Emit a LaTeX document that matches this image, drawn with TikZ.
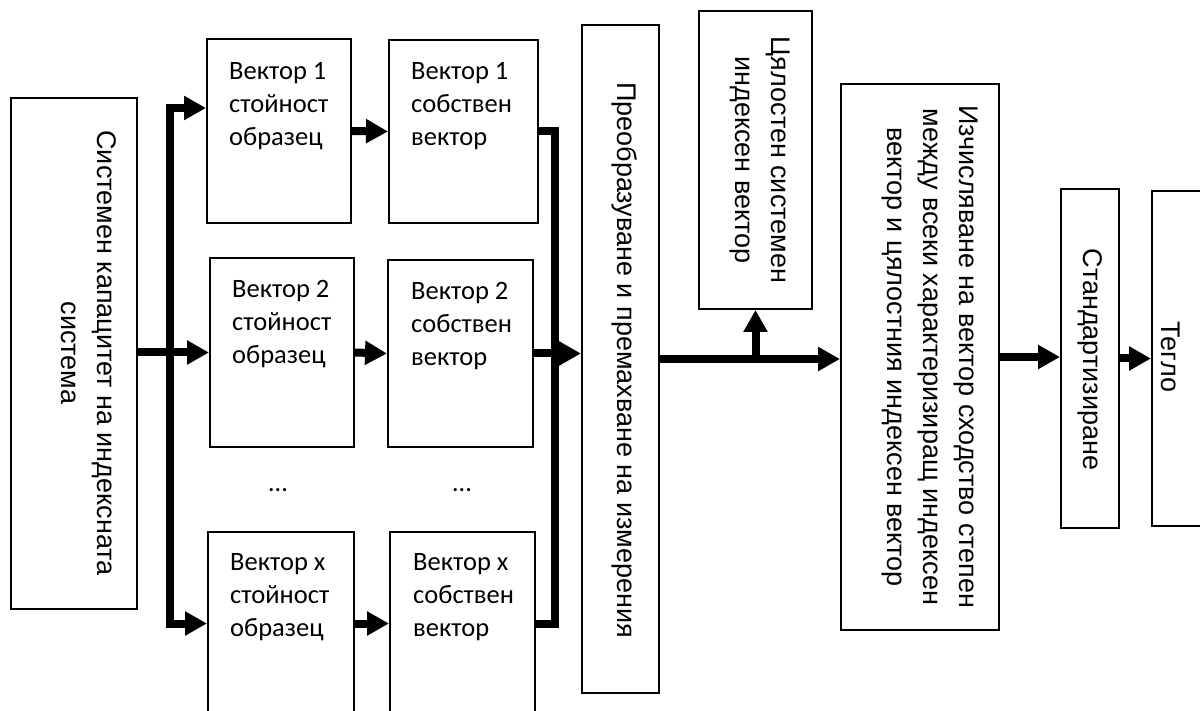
\documentclass[tikz,border=0pt]{standalone}
\usepackage{fontspec}
\setmainfont{Carlito}
\newfontfamily\arialf{Liberation Sans}
\usetikzlibrary{arrows.meta}
\begin{document}
\begin{tikzpicture}[x=1pt,y=-1pt,
  >={Triangle[length=22pt,width=23pt]},
  blk/.style={draw, line width=2pt, inner sep=0pt},
  conn/.style={line width=8pt, line join=miter},
  lbl/.style={anchor=north west, align=left, inner sep=0pt, font=\fontsize{26.5}{33}\selectfont},
  rlbl/.style={rotate=-90, align=center, inner sep=0pt, font=\arialf\fontsize{27}{36}\selectfont}]
\useasboundingbox (0,0) rectangle (1200,711);
% boxes
\node[blk, minimum width=126pt, minimum height=511pt] (L) at (74,353.5) {};
\node[blk, minimum width=144pt, minimum height=184pt] (S1) at (279,131) {};
\node[blk, minimum width=149pt, minimum height=183pt] (V1) at (463.5,131.5) {};
\node[blk, minimum width=144pt, minimum height=189pt] (S2) at (282,352.5) {};
\node[blk, minimum width=145pt, minimum height=187pt] (V2) at (460.5,353.5) {};
\node[blk, minimum width=146pt, minimum height=183pt] (Sx) at (281,623.5) {};
\node[blk, minimum width=145pt, minimum height=183pt] (Vx) at (462.5,623.5) {};
\node[blk, minimum width=77pt, minimum height=668pt] (T) at (620.5,359) {};
\node[blk, minimum width=113pt, minimum height=298pt] (C) at (755.5,160) {};
\node[blk, minimum width=158pt, minimum height=546pt] (I) at (920,357) {};
\node[blk, minimum width=58pt, minimum height=339pt] (St) at (1090,358.5) {};
\node[blk, minimum width=63pt, minimum height=335pt] (Tg) at (1183.5,358.5) {};
% texts
\node[lbl] (tS1) at (229,62) {Вектор 1\\стойност\\образец};
\node[lbl] (tV1) at (411,62) {Вектор 1\\собствен\\вектор};
\node[lbl] (tS2) at (232,280) {Вектор 2\\стойност\\образец};
\node[lbl] (tV2) at (411,282) {Вектор 2\\собствен\\вектор};
\node[lbl] (tSx) at (230,553) {Вектор x\\стойност\\образец};
\node[lbl] (tVx) at (413,553) {Вектор x\\собствен\\вектор};
\node[font=\fontsize{26.5}{33}\selectfont] (d1) at (278,490) {…};
\node[font=\fontsize{26.5}{33}\selectfont] (d2) at (462,490) {…};
\node[rlbl] (tL) at (89,353) {Системен капацитет на индексната\\система};
\node[rlbl] (tT) at (625,360) {Преобразуване и премахване на измерения};
\node[rlbl] (tC) at (760,160) {Цялостен системен\\индексен вектор};
\node[rlbl] (tI) at (930,357) {Изчисляване на вектор сходство степен\\между всеки характеризиращ индексен\\вектор и цялостния индексен вектор};
\node[rlbl] (tSt) at (1090,359.5) {Стандартизиране};
\node[rlbl] (tTg) at (1171,357) {Тегло};
% connectors
\coordinate (bt) at (170,108);
\coordinate (bb) at (170,623.5);
\coordinate (rb) at (555,623.5);
\draw[conn,<->] (S1.west |- bt) -- (bt) -- (bb) -- (Sx.west);
\draw[conn,->] (L.east |- S2.west) -- (S2.west);
\draw[conn,->] (S1.east) -- (V1.west);
\draw[conn,->] (S2.east) -- (V2.west);
\draw[conn,->] (Sx.east) -- (Vx.west);
\draw[conn] (V1.east) -| (rb) -- (Vx.east);
\draw[conn,->] (V2.east) -- (V2.east -| T.west);
\draw[conn,->] (T.east) -- (T.east -| I.west);
\draw[conn,->] (C.south |- T.east) -- (C.south);
\draw[conn,->] (I.east) -- (I.east -| St.west);
\draw[conn,->] (St.east) -- (St.east -| Tg.west);
\end{tikzpicture}
\end{document}
